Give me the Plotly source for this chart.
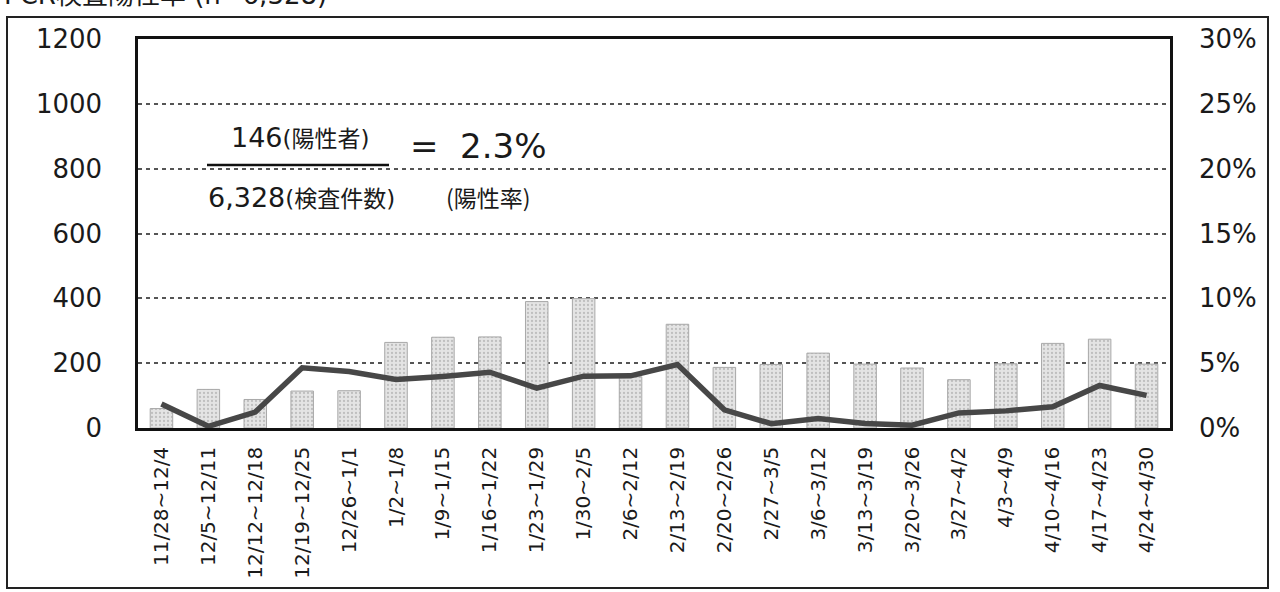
import plotly.graph_objects as go

# Weekly PCR tests (bars, left axis) and positivity rate in % (line, right axis)
weeks = ["11/28~12/4", "12/5~12/11", "12/12~12/18", "12/19~12/25", "12/26~1/1",
         "1/2~1/8", "1/9~1/15", "1/16~1/22", "1/23~1/29", "1/30~2/5",
         "2/6~2/12", "2/13~2/19", "2/20~2/26", "2/27~3/5", "3/6~3/12",
         "3/13~3/19", "3/20~3/26", "3/27~4/2", "4/3~4/9", "4/10~4/16",
         "4/17~4/23", "4/24~4/30"]
tests = [60, 119, 88, 114, 115, 264, 280, 281, 390, 399, 158,
         320, 187, 196, 231, 197, 185, 149, 198, 261, 274, 197]
rate = [1.85, 0.13, 1.23, 4.64, 4.35, 3.74, 3.98, 4.3, 3.08, 4.0, 4.02,
        4.9, 1.4, 0.33, 0.74, 0.35, 0.22, 1.16, 1.32, 1.64, 3.28, 2.52]

left_ticks = [0, 200, 400, 600, 800, 1000, 1200]
right_ticks = [0, 5, 10, 15, 20, 25, 30]
right_labels = [f"{v}%" for v in right_ticks]

W, H = 1280, 592
L, R, T, B = 138, 1170, 39, 428  # plot-area edges in pixels


def px(x):
    return (x - L) / (R - L)


def py(y):
    return (B - y) / (B - T)


FONT = "DejaVu Sans"
JP = "Noto Sans CJK JP"

fig = go.Figure()
fig.add_trace(go.Bar(
    x=weeks, y=tests, yaxis="y",
    marker=dict(color="#e2e2e2",
                line=dict(color="#a8a8a8", width=1),
                pattern=dict(shape=".", fgcolor="#9a9a9a", bgcolor="#e4e4e4",
                             size=4, solidity=0.25)),
    showlegend=False,
))
fig.add_trace(go.Scatter(
    x=weeks, y=rate, yaxis="y2", mode="lines",
    line=dict(color="#474747", width=5.5),
    showlegend=False,
))

annotations = [
    dict(x=px(300), y=py(137), text="146<span style='font-size:23px'>(陽性者)</span>",
         font=dict(size=27, family=f"{FONT}, {JP}", color="#1a1a1a")),
    dict(x=px(301), y=py(197), text="6,328<span style='font-size:23px'>(検査件数)</span>",
         font=dict(size=27, family=f"{FONT}, {JP}", color="#1a1a1a")),
    dict(x=px(478), y=py(146), text="=  2.3%",
         font=dict(size=34, family=FONT, color="#1a1a1a")),
    dict(x=px(488), y=py(197), text="(陽性率)",
         font=dict(size=23, family=JP, color="#1a1a1a")),
    dict(x=px(2), y=py(-5), text="PCR検査陽性率 (n=6,328)", xanchor="left",
         font=dict(size=26, family=f"{FONT}, {JP}", color="#1a1a1a")),
]
for a in annotations:
    a.update(xref="paper", yref="paper", showarrow=False, yanchor="middle")
    a.setdefault("xanchor", "center")

shapes = [
    # fraction bar
    dict(type="line", xref="paper", yref="paper",
         x0=px(207), x1=px(389), y0=py(165), y1=py(165),
         line=dict(color="#111", width=2.5)),
    # outer frame
    dict(type="rect", xref="paper", yref="paper",
         x0=px(7), x1=px(1268), y0=py(588), y1=py(17),
         line=dict(color="#222", width=2), layer="below"),
]

fig.update_layout(
    width=W, height=H,
    margin=dict(l=L, r=W - R, t=T, b=H - B, pad=0, autoexpand=False),
    paper_bgcolor="white", plot_bgcolor="white",
    bargap=0.52,
    font=dict(family=FONT, color="#1a1a1a"),
    xaxis=dict(
        type="category", tickangle=-90, ticks="", automargin=False,
        tickfont=dict(size=20, family=FONT, color="#1a1a1a"),
        showline=True, linecolor="#111", linewidth=2.5, mirror=True,
        showgrid=False, ticklabelstandoff=8,
    ),
    yaxis=dict(
        range=[0, 1200], tickvals=left_ticks, ticks="", automargin=False,
        tickfont=dict(size=26, family=FONT, color="#1a1a1a"),
        showline=True, linecolor="#111", linewidth=2.5, mirror=True,
        showgrid=True, gridcolor="#555", gridwidth=1.5, griddash="4px,4px",
        zeroline=False, ticklabelstandoff=28,
    ),
    yaxis2=dict(
        range=[0, 30], tickmode="array", tickvals=right_ticks, ticktext=right_labels,
        ticks="", overlaying="y", side="right", automargin=False,
        tickfont=dict(size=26, family=FONT, color="#1a1a1a"),
        showgrid=False, zeroline=False, showline=False, ticklabelstandoff=28,
    ),
    annotations=annotations,
    shapes=shapes,
)

fig.write_html("out.html")
